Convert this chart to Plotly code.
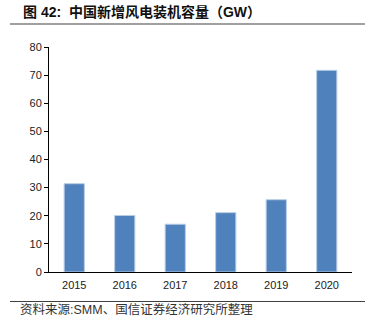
import plotly.graph_objects as go

years = ["2015", "2016", "2017", "2018", "2019", "2020"]
capacity = [31.4, 20.1, 17.0, 21.1, 25.7, 71.7]
y_ticks = [0, 10, 20, 30, 40, 50, 60, 70, 80]

title_text = "<b>图 42:  中国新增风电装机容量（GW）</b>"
source_text = "资料来源:SMM、国信证券经济研究所整理"

fig = go.Figure()
fig.add_trace(go.Bar(
    x=years, y=capacity,
    marker=dict(color="#4F81BD", line=dict(color="#B9CDE5", width=1)),
    width=0.4,
))

fig.update_layout(
    width=376, height=326,
    margin=dict(l=49, r=24, t=47, b=54),
    paper_bgcolor="white", plot_bgcolor="white",
    showlegend=False,
    font=dict(family="Liberation Sans, Noto Sans CJK SC, sans-serif", size=11, color="#222222"),
    xaxis=dict(
        showline=True, linecolor="black", linewidth=1,
        ticks="outside", ticklen=3, tickcolor="rgba(0,0,0,0)",
        showgrid=False, tickfont=dict(size=11),
    ),
    yaxis=dict(
        range=[0, 80], tickvals=y_ticks,
        showline=True, linecolor="black", linewidth=1,
        ticks="outside", ticklen=4, tickcolor="black",
        showgrid=False, zeroline=False, tickfont=dict(size=11),
    ),
    shapes=[
        dict(type="line", xref="paper", yref="paper",
             x0=-39/303, x1=316/303, y0=1 + 23/225, y1=1 + 23/225,
             line=dict(color="#808080", width=1.5)),
        dict(type="line", xref="paper", yref="paper",
             x0=-39/303, x1=316/303, y0=-29.5/225, y1=-29.5/225,
             line=dict(color="#404040", width=1)),
    ],
    annotations=[
        dict(text=title_text, xref="paper", yref="paper",
             x=-28/303, y=1 + 35/225, xanchor="left", yanchor="middle",
             showarrow=False,
             font=dict(size=14, color="#111111",
                       family="Liberation Sans, Noto Sans CJK SC, sans-serif")),
        dict(text=source_text, xref="paper", yref="paper",
             x=-31/303, y=-37.5/225, xanchor="left", yanchor="middle",
             showarrow=False,
             font=dict(size=12.5, color="#333333",
                       family="Liberation Sans, Noto Sans CJK SC, sans-serif")),
    ],
)

fig.write_html("out.html")
